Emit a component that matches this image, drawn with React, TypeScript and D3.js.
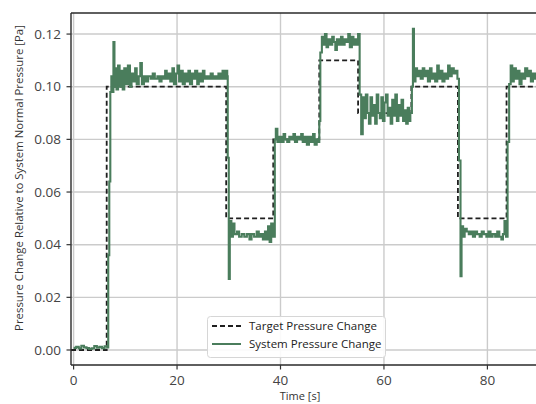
import * as d3 from "d3";

// target pressure (step changes) [time s, value Pa]
const targetSteps: [number, number][] = [
  [-0.5, 0.0], [6.4, 0.1], [29.5, 0.05], [38.6, 0.08], [47.5, 0.11],
  [55.0, 0.09], [65.3, 0.1], [74.3, 0.05], [83.7, 0.1], [96, 0.1],
];

const systemPressure: [number, number][] = [
  [0.0, 0.0008], [0.5, 0.0012], [1.0, 0.0006], [1.5, 0.0016], [2.0, 0.001], [2.5, 0.0007],
  [3.0, 0.0004], [3.5, 0.0006], [4.0, 0.0015], [4.5, 0.0009], [5.0, 0.0012], [5.5, 0.0007],
  [6.0, 0.0014], [6.5, 0.001],
  [6.7, 0.036], [6.9, 0.064], [7.1, 0.098], [7.3, 0.104], [7.5, 0.098], [7.7, 0.117],
  [7.9, 0.1], [8.1, 0.107], [8.3, 0.099], [8.6, 0.108], [8.9, 0.1], [9.2, 0.106],
  [9.5, 0.099], [9.8, 0.107], [10.2, 0.101], [10.5, 0.108], [10.9, 0.1], [11.2, 0.105],
  [11.5, 0.102], [11.9, 0.107], [12.2, 0.101], [12.6, 0.104], [12.9, 0.109], [13.2, 0.101],
  [13.6, 0.104], [14.0, 0.102], [14.4, 0.104], [14.9, 0.103], [15.3, 0.105], [15.7, 0.103],
  [16.2, 0.104], [16.6, 0.102], [17.0, 0.104], [17.3, 0.103], [17.7, 0.106], [18.0, 0.103],
  [18.4, 0.105], [18.7, 0.102], [19.1, 0.107], [19.4, 0.101], [19.8, 0.105], [20.1, 0.108],
  [20.4, 0.102], [20.8, 0.106], [21.1, 0.101], [21.5, 0.105], [21.8, 0.102], [22.2, 0.106],
  [22.5, 0.101], [22.9, 0.105], [23.2, 0.103], [23.5, 0.106], [23.9, 0.101], [24.2, 0.105],
  [24.6, 0.102], [25.0, 0.106], [25.3, 0.103], [25.7, 0.104], [26.1, 0.103], [26.5, 0.105],
  [26.9, 0.103], [27.3, 0.104], [27.7, 0.103], [28.0, 0.105], [28.4, 0.103], [28.8, 0.106],
  [29.1, 0.103], [29.4, 0.106], [29.7, 0.104],
  [29.8, 0.073], [30.0, 0.027], [30.2, 0.049], [30.5, 0.043], [30.8, 0.048], [31.1, 0.044],
  [31.6, 0.045], [32.0, 0.043], [32.5, 0.044], [33.0, 0.043], [33.5, 0.044], [34.0, 0.042],
  [34.4, 0.044], [34.9, 0.043], [35.4, 0.045], [35.8, 0.043], [36.2, 0.044], [36.6, 0.042],
  [37.0, 0.045], [37.3, 0.042], [37.6, 0.047], [37.9, 0.041], [38.2, 0.048], [38.5, 0.043],
  [38.9, 0.08], [39.1, 0.084], [39.4, 0.079], [39.8, 0.081], [40.2, 0.079], [40.6, 0.082],
  [40.9, 0.08], [41.3, 0.079], [41.7, 0.081], [42.1, 0.08], [42.5, 0.082], [42.8, 0.079],
  [43.2, 0.081], [43.6, 0.08], [44.0, 0.082], [44.3, 0.079], [44.7, 0.081], [45.1, 0.078],
  [45.5, 0.081], [45.9, 0.079], [46.3, 0.082], [46.6, 0.078], [47.0, 0.08], [47.3, 0.079],
  [47.5, 0.087], [47.7, 0.113], [48.0, 0.119], [48.3, 0.116], [48.6, 0.12], [48.9, 0.115],
  [49.2, 0.118], [49.6, 0.116], [50.0, 0.119], [50.3, 0.117], [50.6, 0.114], [50.9, 0.118],
  [51.3, 0.116], [51.7, 0.119], [52.0, 0.116], [52.4, 0.118], [52.8, 0.117], [53.1, 0.12],
  [53.4, 0.115], [53.8, 0.119], [54.1, 0.116], [54.5, 0.118], [54.8, 0.116], [55.0, 0.12],
  [55.3, 0.097], [55.6, 0.082], [55.9, 0.096], [56.2, 0.088], [56.5, 0.097], [56.8, 0.09],
  [57.1, 0.086], [57.4, 0.096], [57.7, 0.089], [58.0, 0.093], [58.3, 0.086], [58.6, 0.097],
  [58.9, 0.09], [59.2, 0.088], [59.5, 0.096], [59.8, 0.087], [60.1, 0.094], [60.4, 0.097],
  [60.7, 0.089], [61.0, 0.092], [61.3, 0.086], [61.6, 0.095], [61.9, 0.089], [62.2, 0.097],
  [62.5, 0.087], [62.8, 0.093], [63.1, 0.089], [63.4, 0.095], [63.7, 0.087], [64.0, 0.091],
  [64.3, 0.086], [64.6, 0.092], [64.9, 0.087], [65.1, 0.09],
  [65.4, 0.1], [65.6, 0.122], [65.8, 0.102], [66.1, 0.107], [66.4, 0.104], [66.8, 0.106],
  [67.1, 0.103], [67.5, 0.107], [67.8, 0.104], [68.2, 0.106], [68.5, 0.102], [68.9, 0.107],
  [69.2, 0.103], [69.6, 0.105], [69.9, 0.102], [70.3, 0.108], [70.6, 0.103], [71.0, 0.106],
  [71.3, 0.102], [71.7, 0.105], [72.0, 0.103], [72.4, 0.108], [72.7, 0.104], [73.1, 0.107],
  [73.5, 0.105], [73.9, 0.106], [74.2, 0.103],
  [74.5, 0.072], [74.8, 0.028], [75.0, 0.047], [75.3, 0.043], [75.6, 0.046], [76.0, 0.045],
  [76.4, 0.044], [76.8, 0.045], [77.2, 0.043], [77.6, 0.045], [78.0, 0.044], [78.5, 0.043],
  [78.9, 0.045], [79.3, 0.044], [79.8, 0.043], [80.2, 0.045], [80.6, 0.043], [81.0, 0.044],
  [81.5, 0.043], [81.9, 0.045], [82.3, 0.043], [82.7, 0.042], [83.0, 0.044], [83.3, 0.049],
  [83.6, 0.043],
  [83.9, 0.079], [84.2, 0.101], [84.5, 0.108], [84.8, 0.102], [85.1, 0.107], [85.5, 0.103],
  [85.9, 0.106], [86.2, 0.101], [86.6, 0.105], [87.0, 0.103], [87.3, 0.107], [87.7, 0.104],
  [88.1, 0.106], [88.4, 0.102], [88.8, 0.105], [89.2, 0.103], [89.6, 0.106], [90.0, 0.104],
  [91.0, 0.105],
];

const xTicks = [0, 20, 40, 60, 80];
const yTicks = [0.0, 0.02, 0.04, 0.06, 0.08, 0.1, 0.12];
const legendLabels = ["Target Pressure Change", "System Pressure Change"];

const W = 536;
const H = 404;
const plot = { left: 71, top: 13, bottom: 365, right: 565 };
const green = "#4a7d5c";
const font = "'Open Sans', sans-serif";

export default function App() {
  const x = d3.scaleLinear().domain([-0.5, 95]).range([plot.left, plot.right]);
  const y = d3.scaleLinear().domain([-0.0057, 0.128]).range([plot.bottom, plot.top]);

  const stepLine = d3
    .line<[number, number]>()
    .x((d) => x(d[0]))
    .y((d) => y(d[1]))
    .curve(d3.curveStepAfter);

  return (
    <svg width={W} height={H} style={{ position: "absolute", left: 0, top: 0, background: "#fff" }}>
      <defs>
        <clipPath id="plotClip">
          <rect x={plot.left} y={plot.top} width={plot.right - plot.left} height={plot.bottom - plot.top} />
        </clipPath>
      </defs>

      {/* grid */}
      <g stroke="#cbcbcb" strokeWidth={1.4}>
        {xTicks.map((t) => (
          <line key={"gx" + t} x1={x(t)} x2={x(t)} y1={plot.top} y2={plot.bottom} />
        ))}
        {yTicks.map((t) => (
          <line key={"gy" + t} x1={plot.left} x2={plot.right} y1={y(t)} y2={y(t)} />
        ))}
      </g>

      <g clipPath="url(#plotClip)" fill="none">
        <path d={stepLine(targetSteps) ?? ""} stroke="#1f1f1f" strokeWidth={1.8} strokeDasharray="5,3" />
        <path d={stepLine(systemPressure) ?? ""} stroke={green} strokeWidth={2.1} strokeLinejoin="miter" />
      </g>

      {/* spines */}
      <g stroke="#2a2a2a" strokeWidth={1.4}>
        <line x1={plot.left} x2={plot.left} y1={plot.top} y2={plot.bottom} />
        <line x1={plot.left} x2={plot.right} y1={plot.bottom} y2={plot.bottom} />
        <line x1={plot.left} x2={plot.right} y1={plot.top} y2={plot.top} />
      </g>

      {/* axes ticks and labels */}
      <g fontFamily={font} fontSize={13.5} fill="#444">
        {yTicks.map((t) => (
          <g key={"ty" + t}>
            <line x1={plot.left - 4.5} x2={plot.left} y1={y(t)} y2={y(t)} stroke="#333" strokeWidth={1.2} />
            <text x={plot.left - 10} y={y(t)} dy="0.35em" textAnchor="end">
              {d3.format(".2f")(t)}
            </text>
          </g>
        ))}
        {xTicks.map((t) => (
          <g key={"tx" + t}>
            <line x1={x(t)} x2={x(t)} y1={plot.bottom} y2={plot.bottom + 4.5} stroke="#333" strokeWidth={1.2} />
            <text x={x(t)} y={plot.bottom + 20} textAnchor="middle">
              {t}
            </text>
          </g>
        ))}
      </g>

      <text x={300} y={400} fontFamily={font} fontSize={11} fill="#333" textAnchor="middle">
        Time [s]
      </text>
      <text
        transform={`translate(23,${(plot.top + plot.bottom) / 2 - 11}) rotate(-90)`}
        fontFamily={font}
        fontSize={11.4}
        fill="#333"
        textAnchor="middle"
      >
        Pressure Change Relative to System Normal Pressure [Pa]
      </text>

      {/* legend */}
      <g fontFamily={font} fontSize={11.5} fill="#222">
        <rect x={207.5} y={316.5} width={178} height={41} rx={3} fill="#fff" fillOpacity={0.9} stroke="#d6d6d6" />
        <line x1={212} x2={241} y1={326} y2={326} stroke="#1f1f1f" strokeWidth={1.8} strokeDasharray="5,3" />
        <text x={249} y={326} dy="0.35em">{legendLabels[0]}</text>
        <line x1={212} x2={241} y1={344} y2={344} stroke={green} strokeWidth={2} />
        <text x={249} y={344} dy="0.35em">{legendLabels[1]}</text>
      </g>
    </svg>
  );
}
